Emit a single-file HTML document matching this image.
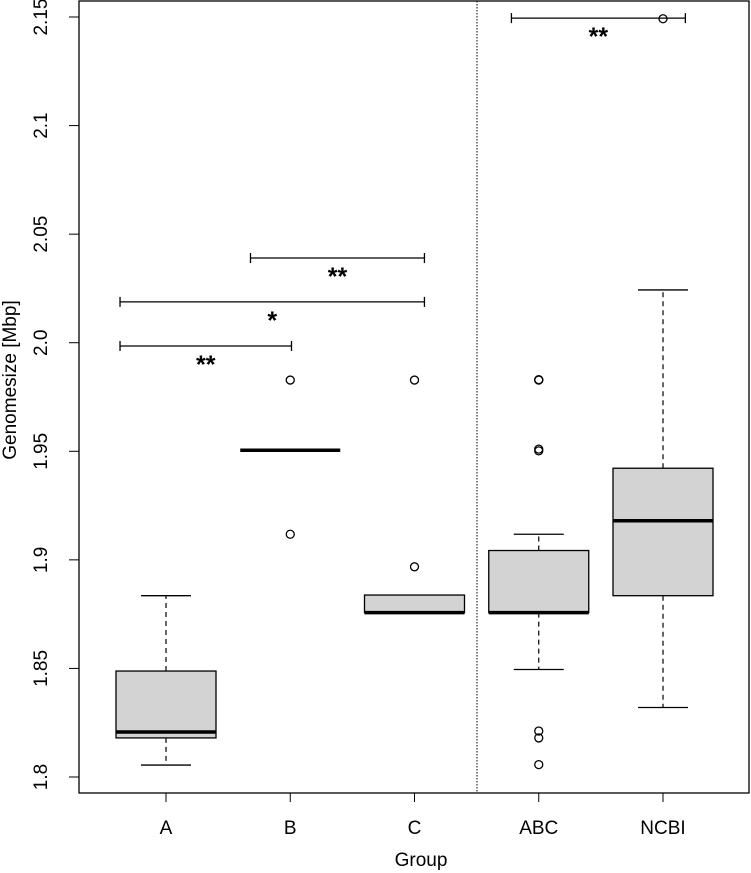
<!DOCTYPE html>
<html><head><meta charset="utf-8"><style>body{margin:0;background:#fff}svg{display:block;font-family:"Liberation Sans",Arial,sans-serif}</style></head>
<body>
<svg id="chart" width="751" height="873" xmlns="http://www.w3.org/2000/svg"></svg>
<script>
const categories = ["A","B","C","ABC","NCBI"];
const lowWhisker = [1.8055, null, null, 1.8495, 1.832];
const q1 = [1.818, 1.9505, 1.8757, 1.8757, 1.8835];
const medians = [1.8207, 1.9505, 1.8757, 1.8757, 1.918];
const q3 = [1.8488, 1.9505, 1.8838, 1.9043, 1.9422];
const highWhisker = [1.8835, null, null, 1.9118, 2.0243];
const outliers = [[], [1.9828, 1.9118], [1.9828, 1.8968], [1.9828, 1.983, 1.951, 1.9502, 1.8212, 1.818, 1.8057], [2.1492]];
const yTicks = [1.8, 1.85, 1.9, 1.95, 2.0, 2.05, 2.1, 2.15];
const yTickLabels = ["1.8","1.85","1.9","1.95","2.0","2.05","2.1","2.15"];
const bracketStart = [-0.37, -0.37, 0.68, 2.78];
const bracketEnd = [1.01, 2.08, 2.08, 4.18];
const bracketLevel = [1.9985, 2.0188, 2.039, 2.1495];
const bracketLabel = ["**", "*", "**", "**"];

const svg = document.getElementById('chart');
const NS = "http://www.w3.org/2000/svg";
const L=79, R=749, T=1, B=793;
const y = v => 777 - (v - 1.8) * 2171.4;
const x = i => 166 + i * 124.25;
function mk(tag, attrs, parent){const e=document.createElementNS(NS,tag);for(const k in attrs)e.setAttribute(k,attrs[k]);(parent||svg).appendChild(e);return e;}
let e;
e = mk('rect',{x:L,y:T,width:R-L,height:B-T,fill:'none',stroke:'#000','stroke-width':1.3});


e = mk('line',{x1:477,y1:T,x2:477,y2:B,stroke:'#000','stroke-dasharray':'1.5,1.5'});


yTicks.forEach((v,i)=>{
  mk('line',{x1:L-10,y1:y(v),x2:L,y2:y(v),stroke:'#000'});
  const t = mk('text',{x:47,y:y(v),'font-size':19,'text-anchor':'middle',transform:`rotate(-90 47 ${y(v)})`});
  t.textContent = yTickLabels[i];
  
  
});
e = mk('text',{x:16,y:380,'font-size':19,'text-anchor':'middle',transform:'rotate(-90 16 380)'});
e.textContent='Genomesize [Mbp]';


categories.forEach((c,i)=>{
  mk('line',{x1:x(i),y1:B,x2:x(i),y2:B+9,stroke:'#000'});
  const t = mk('text',{x:x(i),y:834,'font-size':19,'text-anchor':'middle'});
  t.textContent=c;
  
  
  const g = mk('g',{});
  
  
  const cx=x(i), hw=50;
  if(highWhisker[i]!==null){
    mk('line',{x1:cx,y1:y(q3[i]),x2:cx,y2:y(highWhisker[i]),stroke:'#000','stroke-dasharray':'5,4','stroke-width':1.2},g);
    mk('line',{x1:cx,y1:y(q1[i]),x2:cx,y2:y(lowWhisker[i]),stroke:'#000','stroke-dasharray':'5,4','stroke-width':1.2},g);
    mk('line',{x1:cx-25,y1:y(highWhisker[i]),x2:cx+25,y2:y(highWhisker[i]),stroke:'#000','stroke-width':1.3},g);
    mk('line',{x1:cx-25,y1:y(lowWhisker[i]),x2:cx+25,y2:y(lowWhisker[i]),stroke:'#000','stroke-width':1.3},g);
  }
  mk('rect',{x:cx-hw,y:y(q3[i]),width:2*hw,height:Math.max(0,y(q1[i])-y(q3[i])),fill:'#d3d3d3',stroke:'#000','stroke-width':1.3},g);
  mk('line',{x1:cx-hw,y1:y(medians[i]),x2:cx+hw,y2:y(medians[i]),stroke:'#000','stroke-width':3.5},g);
  outliers[i].forEach(v=>{
    const o = mk('circle',{cx:cx,cy:y(v),r:4,fill:'none',stroke:'#000','stroke-width':1.3},g);
    
    
  });
});
e = mk('text',{x:421,y:866,'font-size':19,'text-anchor':'middle'});
e.textContent='Group';


bracketLevel.forEach((lv,k)=>{
  const x1=x(bracketStart[k]), x2=x(bracketEnd[k]), yy=y(lv);
  const g = mk('g',{});
  
  
  mk('line',{x1:x1,y1:yy,x2:x2,y2:yy,stroke:'#000','stroke-width':1.3},g);
  mk('line',{x1:x1,y1:yy-5,x2:x1,y2:yy+5,stroke:'#000','stroke-width':1.3},g);
  mk('line',{x1:x2,y1:yy-5,x2:x2,y2:yy+5,stroke:'#000','stroke-width':1.3},g);
  const t = mk('text',{x:(x1+x2)/2,y:yy+27,'font-size':25,'font-weight':'bold','text-anchor':'middle'},g);
  t.textContent=bracketLabel[k];
});
</script>
</body></html>
